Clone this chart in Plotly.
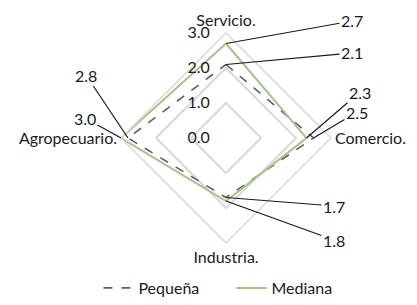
import math
import plotly.graph_objects as go

categories = ["Servicio.", "Comercio.", "Industria.", "Agropecuario."]
pequena = [2.1, 2.5, 1.7, 2.8]
mediana = [2.7, 2.3, 1.8, 3.0]
radial_ticks = [0, 1, 2, 3]

FONT = "Lato"
FS = 16
GREEN = "#a6c48a"
GRAY = "#606060"
GRID = "#d9d9d9"
TXT = "#1a1a1a"

W, H = 417, 305
cx, cy, R = 226, 138, 105
xd = [(cx - R) / W, (cx + R) / W]
yd = [(H - (cy + R)) / H, (H - (cy - R)) / H]

fig = go.Figure()
fig.add_trace(go.Scatterpolar(
    r=pequena + [pequena[0]], theta=categories + [categories[0]],
    mode="lines", name="Pequeña",
    line=dict(color=GRAY, width=1.6, dash="dash"),
))
fig.add_trace(go.Scatterpolar(
    r=mediana + [mediana[0]], theta=categories + [categories[0]],
    mode="lines", name="Mediana",
    line=dict(color=GREEN, width=2),
))

angles = [90, 0, -90, 180]

def pt(val, i):
    a = math.radians(angles[i])
    return val * math.cos(a), val * math.sin(a)

label_pos = {
    ("m", 0): (352, 21), ("p", 0): (352, 53),
    ("m", 1): (360, 92), ("p", 1): (357, 112),
    ("p", 2): (334, 206), ("m", 2): (334, 240),
    ("p", 3): (86, 75), ("m", 3): (85, 118),
}

def px2data(px, py):
    return (px - cx) / R * 3, (cy - py) / R * 3

annotations = []
for key, (lx, ly) in label_pos.items():
    s, i = key
    val = (mediana if s == "m" else pequena)[i]
    x, y = pt(val, i)
    tx, ty = px2data(lx, ly)
    annotations.append(dict(
        x=x, y=y, xref="x", yref="y",
        ax=tx, ay=ty, axref="x", ayref="y",
        text=f"{val:.1f}", showarrow=True, arrowhead=0, arrowwidth=1.2,
        arrowcolor=TXT, standoff=0, startstandoff=0,
        font=dict(family=FONT, size=FS, color=TXT),
    ))

fig.update_layout(
    width=W, height=H,
    margin=dict(l=0, r=0, t=0, b=0),
    paper_bgcolor="white", plot_bgcolor="rgba(0,0,0,0)",
    font=dict(family=FONT, size=FS, color=TXT),
    polar=dict(
        domain=dict(x=xd, y=yd),
        bgcolor="rgba(0,0,0,0)",
        gridshape="linear",
        radialaxis=dict(
            range=[0, 3], tickvals=radial_ticks, tickformat=".1f",
            showline=False, angle=90, side="counterclockwise", tickangle=90,
            gridcolor=GRID, gridwidth=1.5,
            ticks="outside", ticklen=10, tickcolor="rgba(0,0,0,0)",
            tickfont=dict(family=FONT, size=FS, color=TXT),
        ),
        angularaxis=dict(
            rotation=90, direction="clockwise",
            showgrid=False, showline=True, linecolor=GRID, linewidth=1.5,
            ticks="",
            tickfont=dict(family=FONT, size=FS, color=TXT),
        ),
    ),
    xaxis=dict(domain=xd, range=[-3, 3], visible=False, fixedrange=True),
    yaxis=dict(domain=yd, range=[-3, 3], visible=False, fixedrange=True),
    legend=dict(orientation="h", x=0.555, xanchor="center", y=0.0, yanchor="bottom",
                entrywidth=88, entrywidthmode="pixels",
                font=dict(family=FONT, size=FS)),
    annotations=annotations,
    showlegend=True,
)

fig.write_html("out.html", config={"displayModeBar": False},
               post_script="document.body.style.margin='0';document.body.style.overflow='hidden';")
